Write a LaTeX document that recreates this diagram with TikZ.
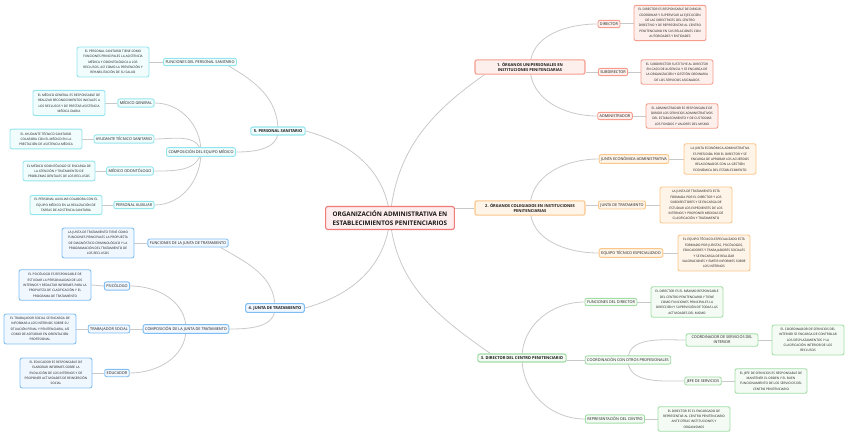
\documentclass[tikz,border=0pt]{standalone}
\usepackage{fontspec}
\setmainfont{Open Sans}
\usepackage{xcolor}
\usepackage{tikz}
\usetikzlibrary{backgrounds}

\definecolor{rootb}{HTML}{EF7B7B}
\definecolor{rootf}{HTML}{FDEDEC}
\definecolor{redb}{HTML}{F59C8C}
\definecolor{redf}{HTML}{FDF0EC}
\definecolor{orab}{HTML}{FBC68A}
\definecolor{oraf}{HTML}{FEF4E8}
\definecolor{grnb}{HTML}{A2DDA6}
\definecolor{grnf}{HTML}{F4FBF4}
\definecolor{blub}{HTML}{7FBEF3}
\definecolor{bluf}{HTML}{F1F7FE}
\definecolor{cyab}{HTML}{93E5EC}
\definecolor{cyaf}{HTML}{F1FCFD}
\definecolor{linec}{HTML}{C9C9C9}

\begin{document}
\begin{tikzpicture}[x=1pt,y=-1pt,
  every node/.style={rounded corners=2pt,line width=0.9pt,text=black!90},
  root/.style={draw=rootb,fill=rootf,line width=1.1pt,align=left,
    inner xsep=7pt,inner ysep=4pt,font=\bfseries\fontsize{6.3}{9}\selectfont},
  branch/.style={align=center,line width=1.1pt,inner xsep=3pt,inner ysep=2.5pt,
    font=\bfseries\fontsize{4}{5.6}\selectfont},
  topic/.style={align=center,inner xsep=2pt,inner ysep=2.3pt,
    font=\fontsize{3.8}{5}\selectfont},
  note/.style={align=center,minimum width=72pt,inner xsep=2pt,inner ysep=3pt,
    font=\fontsize{3.15}{5.4}\selectfont},
  tred/.style={draw=redb,fill=redf},
  tora/.style={draw=orab,fill=oraf},
  tgrn/.style={draw=grnb,fill=grnf},
  tblu/.style={draw=blub,fill=bluf},
  tcya/.style={draw=cyab,fill=cyaf},
  link/.style={draw=linec,line width=0.8pt}]
\useasboundingbox (0,0) rectangle (848,436);

\node[root] (org) at (390,218) {ORGANIZACIÓN ADMINISTRATIVA EN\\ESTABLECIMIENTOS PENITENCIARIOS};

% 1. organos unipersonales
\node[branch,tred,minimum width=110pt] (uni) at (530,67) {1. ÓRGANOS UNIPERSONALES EN\\INSTITUCIONES PENITENCIARIAS};
\node[topic,tred] (dir) at (609,24) {DIRECTOR};
\node[topic,tred] (sub) at (613,72) {SUBDIRECTOR};
\node[topic,tred] (adm) at (615,116) {ADMINISTRADOR};
\node[note,tred] (dirn) at (670,23) {EL DIRECTOR ES RESPONSABLE DE DIRIGIR,\\COORDINAR Y SUPERVISAR LA EJECUCIÓN\\DE LAS DIRECTRICES DEL CENTRO\\DIRECTIVO Y DE REPRESENTAR AL CENTRO\\PENITENCIARIO EN SUS RELACIONES CON\\AUTORIDADES Y ENTIDADES};
\node[note,tred] (subn) at (677,72) {EL SUBDIRECTOR SUSTITUYE AL DIRECTOR\\EN CASO DE AUSENCIA Y SE ENCARGA DE\\LA ORGANIZACIÓN Y GESTIÓN ORDINARIA\\DE LOS SERVICIOS ASIGNADOS};
\node[note,tred] (admn) at (682,116) {EL ADMINISTRADOR ES RESPONSABLE DE\\DIRIGIR LOS SERVICIOS ADMINISTRATIVOS\\DEL ESTABLECIMIENTO Y DE CUSTODIAR\\LOS FONDOS Y VALORES DEL MISMO};

% 2. organos colegiados
\node[branch,tora,minimum width=110pt] (col) at (530,208) {2. ÓRGANOS COLEGIADOS EN INSTITUCIONES\\PENITENCIARIAS};
\node[topic,tora] (jea) at (634,159) {JUNTA ECONÓMICA-ADMINISTRATIVA};
\node[topic,tora] (jtr) at (622,205) {JUNTA DE TRATAMIENTO};
\node[topic,tora] (ete) at (631,253) {EQUIPO TÉCNICO ESPECIALIZADO};
\node[note,tora] (jean) at (720,159) {LA JUNTA ECONÓMICA-ADMINISTRATIVA\\ES PRESIDIDA POR EL DIRECTOR Y SE\\ENCARGA DE APROBAR LOS ACUERDOS\\RELACIONADOS CON LA GESTIÓN\\ECONÓMICA DEL ESTABLECIMIENTO};
\node[note,tora] (jtrn) at (696,205) {LA JUNTA DE TRATAMIENTO ESTÁ\\FORMADA POR EL DIRECTOR Y LOS\\SUBDIRECTORES Y SE ENCARGA DE\\ESTUDIAR LOS EXPEDIENTES DE LOS\\INTERNOS Y PROPONER MEDIDAS DE\\CLASIFICACIÓN Y TRATAMIENTO};
\node[note,tora] (eten) at (714,253) {EL EQUIPO TÉCNICO-ESPECIALIZADO ESTÁ\\FORMADO POR JURISTAS, PSICÓLOGOS,\\EDUCADORES Y TRABAJADORES SOCIALES\\Y SE ENCARGA DE REALIZAR\\VALORACIONES Y EMITIR INFORMES SOBRE\\LOS INTERNOS};

% 3. director del centro
\node[branch,tgrn] (dcp) at (522,358) {3. DIRECTOR DEL CENTRO PENITENCIARIO};
\node[topic,tgrn] (fdi) at (611,302) {FUNCIONES DEL DIRECTOR};
\node[topic,tgrn] (cop) at (628,360) {COORDINACIÓN CON OTROS PROFESIONALES};
\node[topic,tgrn] (rep) at (615,419) {REPRESENTACIÓN DEL CENTRO};
\node[topic,tgrn,minimum width=72pt] (csi) at (722,340) {COORDINADOR DE SERVICIOS DEL\\INTERIOR};
\node[topic,tgrn] (jse) at (703,381) {JEFE DE SERVICIOS};
\node[note,tgrn] (fdin) at (687,302) {EL DIRECTOR ES EL MÁXIMO RESPONSABLE\\DEL CENTRO PENITENCIARIO Y TIENE\\COMO FUNCIONES PRINCIPALES LA\\DIRECCIÓN Y SUPERVISIÓN DE TODAS LAS\\ACTIVIDADES DEL MISMO};
\node[note,tgrn] (csin) at (808,340) {EL COORDINADOR DE SERVICIOS DEL\\INTERIOR SE ENCARGA DE CONTROLAR\\LOS DESPLAZAMIENTOS Y LA\\CLASIFICACIÓN INTERIOR DE LOS\\RECLUSOS};
\node[note,tgrn] (jsen) at (771,381) {EL JEFE DE SERVICIOS ES RESPONSABLE DE\\MANTENER EL ORDEN Y EL BUEN\\FUNCIONAMIENTO DE LOS SERVICIOS DEL\\CENTRO PENITENCIARIO};
\node[note,tgrn] (repn) at (694,419) {EL DIRECTOR ES EL ENCARGADO DE\\REPRESENTAR AL CENTRO PENITENCIARIO\\ANTE OTRAS INSTITUCIONES Y\\ORGANISMOS};

% 4. junta de tratamiento
\node[branch,tblu] (jun) at (275,308) {4. JUNTA DE TRATAMIENTO};
\node[topic,tblu] (fjt) at (188,243) {FUNCIONES DE LA JUNTA DE TRATAMIENTO};
\node[topic,tblu] (cjt) at (186,329) {COMPOSICIÓN DE LA JUNTA DE TRATAMIENTO};
\node[topic,tblu] (psi) at (117,286) {PSICÓLOGO};
\node[topic,tblu] (tso) at (109,329) {TRABAJADOR SOCIAL};
\node[topic,tblu] (edu) at (117,373) {EDUCADOR};
\node[note,tblu] (fjtn) at (98,243) {LA JUNTA DE TRATAMIENTO TIENE COMO\\FUNCIONES PRINCIPALES LA PROPUESTA\\DE DIAGNÓSTICO CRIMINOLÓGICO Y LA\\PROGRAMACIÓN DEL TRATAMIENTO DE\\LOS RECLUSOS};
\node[note,tblu] (psin) at (55,285) {EL PSICÓLOGO ES RESPONSABLE DE\\ESTUDIAR LA PERSONALIDAD DE LOS\\INTERNOS Y REDACTAR INFORMES PARA LA\\PROPUESTA DE CLASIFICACIÓN Y EL\\PROGRAMA DE TRATAMIENTO};
\node[note,tblu] (tson) at (40,329) {EL TRABAJADOR SOCIAL SE ENCARGA DE\\INFORMAR A LOS INTERNOS SOBRE SU\\SITUACIÓN PENAL Y PENITENCIARIA, ASÍ\\COMO DE ASESORAR EN ORIENTACIÓN\\PROFESIONAL};
\node[note,tblu] (edun) at (56,373) {EL EDUCADOR ES RESPONSABLE DE\\ELABORAR INFORMES SOBRE LA\\EVOLUCIÓN DE LOS INTERNOS Y DE\\PROPONER ACTIVIDADES DE REINSERCIÓN\\SOCIAL};

% 5. personal sanitario
\node[branch,tcya] (san) at (278,131) {5. PERSONAL SANITARIO};
\node[topic,tcya] (fps) at (200,62) {FUNCIONES DEL PERSONAL SANITARIO};
\node[topic,tcya] (cem) at (201,152) {COMPOSICIÓN DEL EQUIPO MÉDICO};
\node[topic,tcya] (mge) at (136,103) {MÉDICO GENERAL};
\node[topic,tcya] (ats) at (124,139) {AYUDANTE TÉCNICO SANITARIO};
\node[topic,tcya] (mod) at (130,171) {MÉDICO ODONTÓLOGO};
\node[topic,tcya] (pau) at (134,205) {PERSONAL AUXILIAR};
\node[note,tcya] (fpsn) at (113,62) {EL PERSONAL SANITARIO TIENE COMO\\FUNCIONES PRINCIPALES LA ASISTENCIA\\MÉDICA Y ODONTOLÓGICA A LOS\\RECLUSOS, ASÍ COMO LA PREVENCIÓN Y\\REHABILITACIÓN DE SU SALUD};
\node[note,tcya] (mgen) at (69,103) {EL MÉDICO GENERAL ES RESPONSABLE DE\\REALIZAR RECONOCIMIENTOS INICIALES A\\LOS RECLUSOS Y DE PRESTAR ASISTENCIA\\MÉDICA DIARIA};
\node[note,tcya] (atsn) at (46,139) {EL AYUDANTE TÉCNICO SANITARIO\\COLABORA CON EL MÉDICO EN LA\\PRESTACIÓN DE ASISTENCIA MÉDICA};
\node[note,tcya] (modn) at (59,171) {EL MÉDICO ODONTÓLOGO SE ENCARGA DE\\LA ATENCIÓN Y TRATAMIENTO DE\\PROBLEMAS DENTALES DE LOS RECLUSOS};
\node[note,tcya] (paun) at (66,205) {EL PERSONAL AUXILIAR COLABORA CON EL\\EQUIPO MÉDICO EN LA REALIZACIÓN DE\\TAREAS DE ASISTENCIA SANITARIA};

\begin{pgfonlayer}{background}
\draw[link] (org.center) to[out=85,in=215] ([xshift=10pt]uni.south west);
\draw[link] (col.west) -- (col.west -| org.east);
\draw[link] (org.center) to[out=-85,in=145] ([xshift=13pt]dcp.north west);
\draw[link] (org.center) to[out=-95,in=15] (jun.east);
\draw[link] (org.center) to[out=95,in=-15] (san.east);
\draw[link] (uni.center) to[out=90,in=180] (dir.west);
\draw[link] (sub.west) -- (sub.west -| uni.east);
\draw[link] (uni.center) to[out=-90,in=180] (adm.west);
\draw[link] (col.center) to[out=90,in=180] (jea.west);
\draw[link] (jtr.west) -- (jtr.west -| col.east);
\draw[link] (col.center) to[out=-90,in=180] (ete.west);
\draw[link] (dcp.center) to[out=90,in=180] (fdi.west);
\draw[link] (cop.west) -- (cop.west -| dcp.east);
\draw[link] (dcp.center) to[out=-90,in=180] (rep.west);
\draw[link] (cop.center) to[out=90,in=180] (csi.west);
\draw[link] (cop.center) to[out=-90,in=180] (jse.west);
\draw[link] (jun.center) to[out=90,in=-30] ([xshift=-8pt]fjt.south east);
\draw[link] (jun.center) to[out=-90,in=0] (cjt.east);
\draw[link] (cjt.center) to[out=90,in=0] (psi.east);
\draw[link] (tso.east) -- (tso.east -| cjt.west);
\draw[link] (cjt.center) to[out=-90,in=0] (edu.east);
\draw[link] (san.center) to[out=90,in=-30] ([xshift=-8pt]fps.south east);
\draw[link] (san.center) to[out=-90,in=0] (cem.east);
\draw[link] (cem.center) to[out=90,in=0] (mge.east);
\draw[link] (cem.center) to[out=100,in=0] (ats.east);
\draw[link] (cem.center) to[out=-100,in=0] (mod.east);
\draw[link] (cem.center) to[out=-90,in=0] (pau.east);
\draw[link] (dir.east) -- (dirn.west -| dir.east) -- (dirn.west);
\draw[link] (sub.east) -- (subn.west);
\draw[link] (adm.east) -- (admn.west);
\draw[link] (jea.east) -- (jean.west);
\draw[link] (jtr.east) -- (jtrn.west);
\draw[link] (ete.east) -- (eten.west);
\draw[link] (fdi.east) -- (fdin.west);
\draw[link] (csi.east) -- (csin.west);
\draw[link] (jse.east) -- (jsen.west);
\draw[link] (rep.east) -- (repn.west);
\draw[link] (fjt.west) -- (fjtn.east);
\draw[link] (psi.west) -- (psin.east);
\draw[link] (tso.west) -- (tson.east);
\draw[link] (edu.west) -- (edun.east);
\draw[link] (fps.west) -- (fpsn.east);
\draw[link] (mge.west) -- (mgen.east);
\draw[link] (ats.west) -- (atsn.east);
\draw[link] (mod.west) -- (modn.east);
\draw[link] (pau.west) -- (paun.east);
\end{pgfonlayer}
\end{tikzpicture}
\end{document}
